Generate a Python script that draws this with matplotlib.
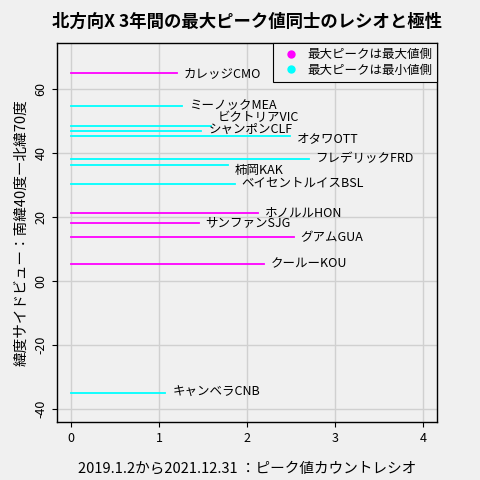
import matplotlib
matplotlib.use("Agg")
import matplotlib.pyplot as plt
from matplotlib.lines import Line2D

plt.rcParams['font.family'] = ['Noto Sans CJK JP', 'DejaVu Sans']

# データ
names = ["カレッジCMO", "ミーノックMEA", "ビクトリアVIC", "シャンポンCLF", "オタワOTT",
         "フレデリックFRD", "柿岡KAK", "ベイセントルイスBSL", "ホノルルHON", "サンファンSJG",
         "グアムGUA", "クールーKOU", "キャンベラCNB"]
lat = [65.0, 54.7, 48.6, 47.0, 45.5, 38.3, 36.3, 30.5, 21.3, 18.2, 13.75, 5.3, -34.9]
ratio = [1.20, 1.26, 1.59, 1.48, 2.49, 2.70, 1.78, 1.86, 2.12, 1.45, 2.53, 2.19, 1.07]
is_max = [True, False, False, False, False, False, False, False, True, True, True, True, False]
label_y = [65.0, 54.7, 51.0, 47.3, 44.5, 38.3, 34.6, 30.5, 21.3, 18.2, 13.75, 5.3, -34.9]

fig = plt.figure(figsize=(4.8, 4.8), dpi=100, facecolor="#f0f0f0")
ax = fig.add_axes([57/480, 58/480, 380/480, 379/480])
ax.set_facecolor("#f0f0f0")

for n, y, r, m, ly in zip(names, lat, ratio, is_max, label_y):
    ax.plot([0, r], [y, y], color="magenta" if m else "cyan", lw=1.3)
    ax.text(r + 0.08, ly, n, fontsize=9, va="center", ha="left")

ax.set_xlim(-0.16, 4.16)
ax.set_ylim(-44, 74.4)
ax.set_xticks([0, 1, 2, 3, 4])
ax.set_yticks([-40, -20, 0, 20, 40, 60])
ax.set_yticklabels(["-40", "-20", "00", "20", "40", "60"], rotation=90, va="center")
ax.tick_params(labelsize=9)
ax.grid(True, color="#d0d0d0", lw=1)
ax.set_axisbelow(True)
for s in ax.spines.values():
    s.set_linewidth(1)

ax.set_title("北方向X 3年間の最大ピーク値同士のレシオと極性", fontsize=12.5, fontweight="bold", pad=12)
ax.set_xlabel("2019.1.2から2021.12.31 ：ピーク値カウントレシオ", fontsize=10.5, labelpad=12)
ax.set_ylabel("緯度サイドビュー：南緯40度ー北緯70度", fontsize=10.5)

handles = [Line2D([], [], marker="o", color="magenta", lw=0, markersize=5),
           Line2D([], [], marker="o", color="cyan", lw=0, markersize=5)]
leg = ax.legend(handles, ["最大ピークは最大値側", "最大ピークは最小値側"], loc="upper right",
                fontsize=9, frameon=True, fancybox=False, edgecolor="black",
                facecolor="#f0f0f0", framealpha=1, borderaxespad=0, handletextpad=0.3,
                labelspacing=0.2)
leg.get_frame().set_linewidth(0.8)

fig.savefig("out.png", dpi=100, facecolor=fig.get_facecolor())
